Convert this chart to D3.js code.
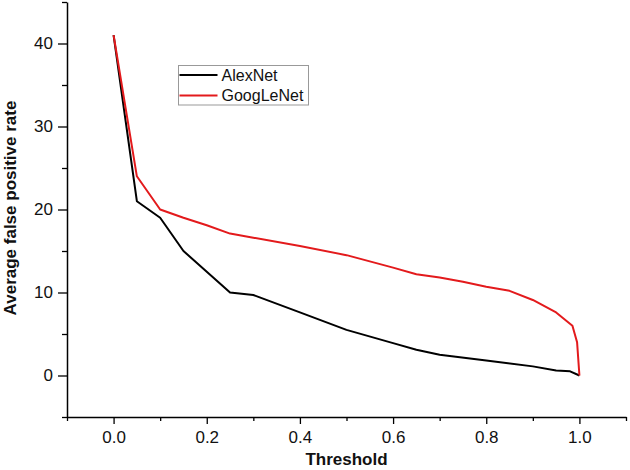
<!DOCTYPE html>
<html>
<head>
<meta charset="utf-8">
<script src="https://cdn.jsdelivr.net/npm/d3@7"></script>
<style>
  body { margin: 0; background: #fff; }
  text { font-family: Arial, "Liberation Sans", sans-serif; }
</style>
</head>
<body>
<div id="chart"></div>
<script>
// data
const alexX = [0, 0.05, 0.1, 0.15, 0.25, 0.3, 0.4, 0.5, 0.6, 0.65, 0.7, 0.8, 0.9, 0.95, 0.98, 1.0];
const alexY = [41, 21, 19, 15, 10, 9.7, 7.6, 5.5, 3.9, 3.1, 2.5, 1.8, 1.1, 0.6, 0.5, 0];

const googX = [0, 0.05, 0.1, 0.15, 0.2, 0.25, 0.3, 0.4, 0.5, 0.6, 0.65, 0.7, 0.75, 0.8, 0.85, 0.9, 0.95, 0.985, 0.995, 1.0];
const googY = [41, 24, 20, 19, 18.1, 17.1, 16.6, 15.6, 14.5, 13, 12.2, 11.8, 11.3, 10.7, 10.2, 9.1, 7.6, 6, 4, 0];

const xTicks = [0, 0.2, 0.4, 0.6, 0.8, 1.0];
const yTicks = [0, 10, 20, 30, 40];
const series = [
  {name: "AlexNet", xs: alexX, ys: alexY, color: "#000000"},
  {name: "GoogLeNet", xs: googX, ys: googY, color: "#e31a1c"}
];

const W = 630, H = 470;
const svg = d3.select("#chart").append("svg")
    .attr("width", W).attr("height", H);

const x = d3.scaleLinear().domain([-0.1, 1.1]).range([67, 626]);
const y = d3.scaleLinear().domain([-5, 45]).range([417, 2]);

// minor ticks
const xMinor = d3.range(-0.1, 1.11, 0.2).map(v => +v.toFixed(2));
const yMinor = d3.range(-5, 46, 10);

svg.append("g")
    .attr("transform", "translate(0,417)")
    .call(d3.axisBottom(x).tickValues(xMinor).tickSize(4).tickFormat(""))
    .call(g => g.select(".domain").remove())
    .selectAll("line").attr("stroke-width", 1.3);

svg.append("g")
    .attr("transform", "translate(67,0)")
    .call(d3.axisLeft(y).tickValues(yMinor).tickSize(5).tickFormat(""))
    .call(g => g.select(".domain").remove())
    .selectAll("line").attr("stroke-width", 1.3);

const gx = svg.append("g")
    .attr("transform", "translate(0,417)")
    .call(d3.axisBottom(x).tickValues(xTicks).tickSize(7).tickSizeOuter(0).tickPadding(7)
        .tickFormat(d3.format(".1f")));
gx.select(".domain").attr("stroke-width", 1.5);
gx.selectAll("line").attr("stroke-width", 1.3);
gx.selectAll("text").attr("font-size", 17).attr("fill", "#111");

const gy = svg.append("g")
    .attr("transform", "translate(67,0)")
    .call(d3.axisLeft(y).tickValues(yTicks).tickSize(9).tickSizeOuter(0).tickPadding(5)
        .tickFormat(d3.format("d")));
gy.select(".domain").attr("stroke-width", 1.5);
gy.selectAll("line").attr("stroke-width", 1.3);
gy.selectAll("text").attr("font-size", 17).attr("fill", "#111");

// axis titles
svg.append("text")
    .attr("x", x(0.5)).attr("y", 465)
    .attr("text-anchor", "middle")
    .attr("font-size", 17).attr("font-weight", "bold")
    .attr("fill", "#111")
    .text("Threshold");

svg.append("text")
    .attr("transform", "translate(16,208) rotate(-90)")
    .attr("text-anchor", "middle")
    .attr("font-size", 17).attr("font-weight", "bold")
    .attr("fill", "#111")
    .text("Average false positive rate");

// curves
const line = d3.line().x(d => x(d[0])).y(d => y(d[1]));
series.forEach(s => {
  svg.append("path")
      .datum(s.xs.map((v, i) => [v, s.ys[i]]))
      .attr("fill", "none")
      .attr("stroke", s.color)
      .attr("stroke-width", 2)
      .attr("stroke-linejoin", "round")
      .attr("d", line);
});

// legend
const lg = svg.append("g").attr("transform", "translate(178.5,65.5)");
lg.append("rect").attr("x", 0).attr("y", 0).attr("width", 130).attr("height", 39.5)
    .attr("fill", "#fff").attr("stroke", "#999").attr("stroke-width", 1);
series.forEach((s, i) => {
  const yy = 9.5 + i * 20.5;
  lg.append("line").attr("x1", 1).attr("x2", 39).attr("y1", yy).attr("y2", yy)
      .attr("stroke", s.color).attr("stroke-width", 2);
  lg.append("text").attr("x", 43).attr("y", yy + 5.5)
      .attr("font-size", 16).attr("fill", "#111").text(s.name);
});
</script>
</body>
</html>
